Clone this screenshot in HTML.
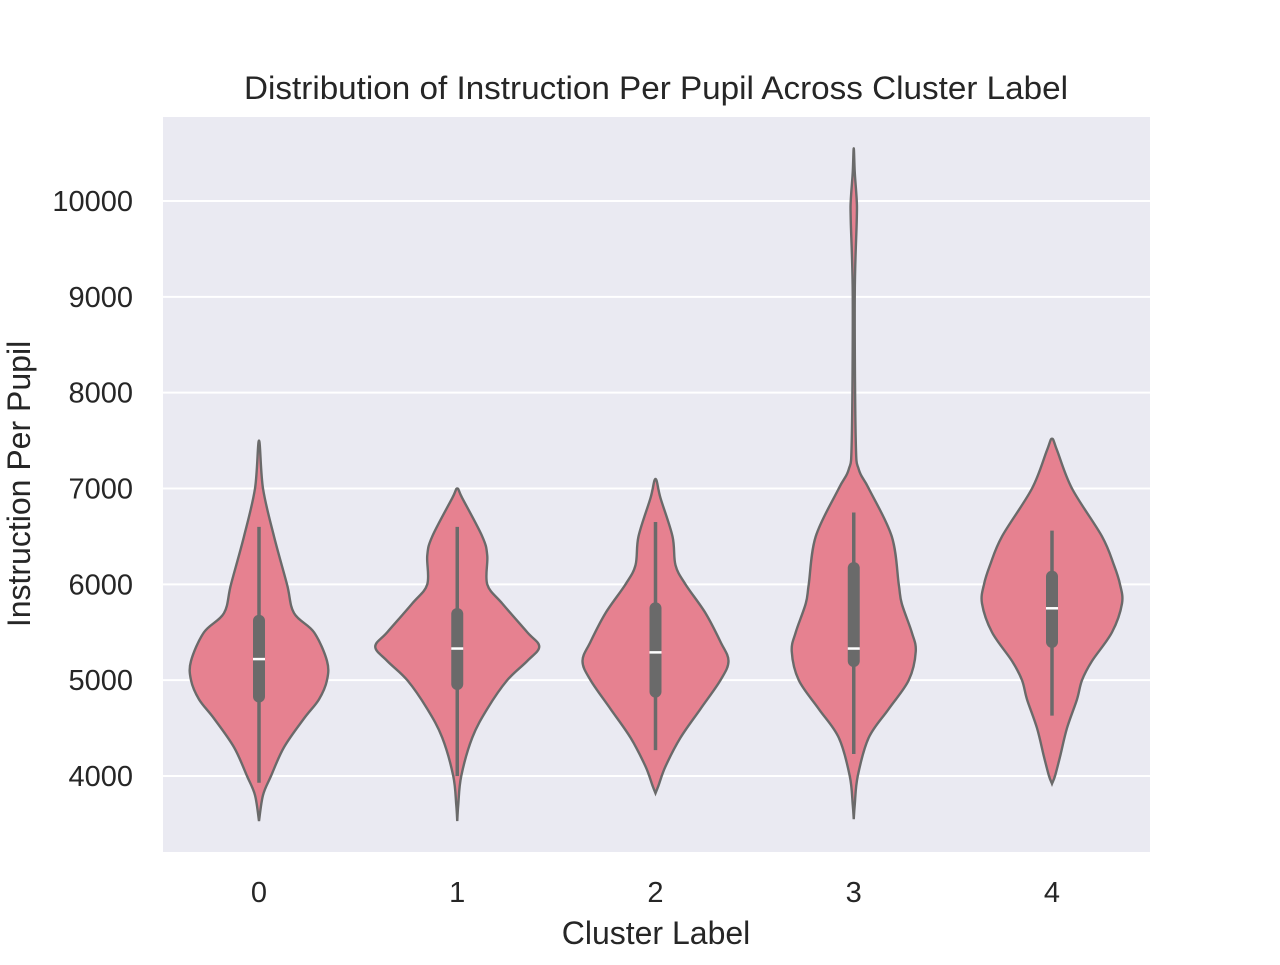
<!DOCTYPE html>
<html><head><meta charset="utf-8"><style>
body{margin:0;background:#fff;}
svg text{font-family:"Liberation Sans",sans-serif;fill:#262626;}
</style></head><body>
<svg id="chart" width="1280" height="960">
<rect x="163" y="117" width="987" height="735" fill="#eaeaf2"/>
<g id="grid"></g><g id="violins"></g><g id="ticks"></g>
<text x="656" y="99" text-anchor="middle" font-size="32" textLength="824" lengthAdjust="spacingAndGlyphs">Distribution of Instruction Per Pupil Across Cluster Label</text>
<text x="656" y="944" text-anchor="middle" font-size="32">Cluster Label</text>
<text transform="translate(30,484) rotate(-90)" text-anchor="middle" font-size="32">Instruction Per Pupil</text>
</svg>
<script>
const categories=["0","1","2","3","4"];
const yTicks=[4000,5000,6000,7000,8000,9000,10000];
const v0Vals=[3530,3800,4000,4300,4600,4800,5000,5200,5500,5700,6000,6500,7000,7500];
const v0W=[0,4,12,25,45,60,68,68,55,35,28,15,4,0];
const v1Vals=[3530,3700,4000,4400,4700,5000,5200,5350,5500,5800,6000,6300,6500,6900,7000];
const v1W=[0,1,4,15,30,50,70,82,70,45,30,30,25,5,0];
const v2Vals=[3820,3900,4100,4400,4700,5000,5200,5400,5700,6000,6200,6500,6900,7100];
const v2W=[0,3,10,25,45,65,73,65,50,30,20,17,5,0];
const v3Vals=[3550,3700,4000,4400,4700,5000,5300,5500,5800,6000,6500,7000,7200,7500,9000,9800,10000,10300,10550];
const v3W=[0,1,4,15,35,55,62,58,48,45,38,15,5,2,1,3,3,1,0];
const v4Vals=[3920,4000,4200,4500,4800,5000,5200,5500,5800,6000,6200,6500,7000,7400,7520];
const v4W=[0,3,8,15,25,30,40,60,70,68,62,50,20,5,0];
const whiskLo=[3930,4000,4270,4230,4630];
const whiskHi=[6600,6600,6650,6750,6560];
const q1=[4830,4960,4880,5200,5400];
const q3=[5620,5690,5750,6170,6080];
const medians=[5220,5330,5290,5330,5750];
const vals=[v0Vals,v1Vals,v2Vals,v3Vals,v4Vals], widths=[v0W,v1W,v2W,v3W,v4W];
const NS="http://www.w3.org/2000/svg";
const yS=v=>776-(v-4000)*0.095833;
const xS=i=>259+i*198.25;
function mk(tag,attrs,parent){const e=document.createElementNS(NS,tag);for(const k in attrs)e.setAttribute(k,attrs[k]);parent.appendChild(e);return e;}
const grid=document.getElementById('grid'),ticks=document.getElementById('ticks'),vg=document.getElementById('violins');
yTicks.forEach(t=>{
 const l=mk('line',{x1:163,x2:1150,y1:yS(t),y2:yS(t),stroke:'#fff','stroke-width':2},grid);
 
 
 const tx=mk('text',{x:133,y:yS(t)+10,'text-anchor':'end','font-size':29},ticks);tx.textContent=t;
 
 
});
categories.forEach((c,i)=>{
 const tx=mk('text',{x:xS(i),y:902,'text-anchor':'middle','font-size':29},ticks);tx.textContent=c;
 
 
});
function spline(pts){
 let d='M'+pts[0][0]+','+pts[0][1];
 for(let i=0;i<pts.length-1;i++){
  const p0=pts[i-1]||pts[i],p1=pts[i],p2=pts[i+1],p3=pts[i+2]||p2;
  const c1=[p1[0]+(p2[0]-p0[0])/6,p1[1]+(p2[1]-p0[1])/6],c2=[p2[0]-(p3[0]-p1[0])/6,p2[1]-(p3[1]-p1[1])/6];
  d+=`C${c1[0]},${c1[1]} ${c2[0]},${c2[1]} ${p2[0]},${p2[1]}`;
 }
 return d;
}
categories.forEach((c,i)=>{
 const cx=xS(i),vs=vals[i],ws=widths[i];
 const right=vs.map((v,k)=>[cx+ws[k],yS(v)]);
 const left=vs.map((v,k)=>[cx-ws[k],yS(v)]).reverse();
 const pts=right.concat(left.slice(1));
 const p=mk('path',{d:spline(pts)+'Z',fill:'#e68190',stroke:'#6a6a6a','stroke-width':2.4},vg);
 
 
 const w=mk('line',{x1:cx,x2:cx,y1:yS(whiskLo[i]),y2:yS(whiskHi[i]),stroke:'#6a6a6a','stroke-width':3.5},vg);
 
 
 const b=mk('line',{x1:cx,x2:cx,y1:yS(q1[i]),y2:yS(q3[i]),stroke:'#6a6a6a','stroke-width':12,'stroke-linecap':'round'},vg);
 
 
 const m=mk('line',{x1:cx-6,x2:cx+6,y1:yS(medians[i]),y2:yS(medians[i]),stroke:'#fff','stroke-width':2.5},vg);
 
 
});
</script>
</body></html>
